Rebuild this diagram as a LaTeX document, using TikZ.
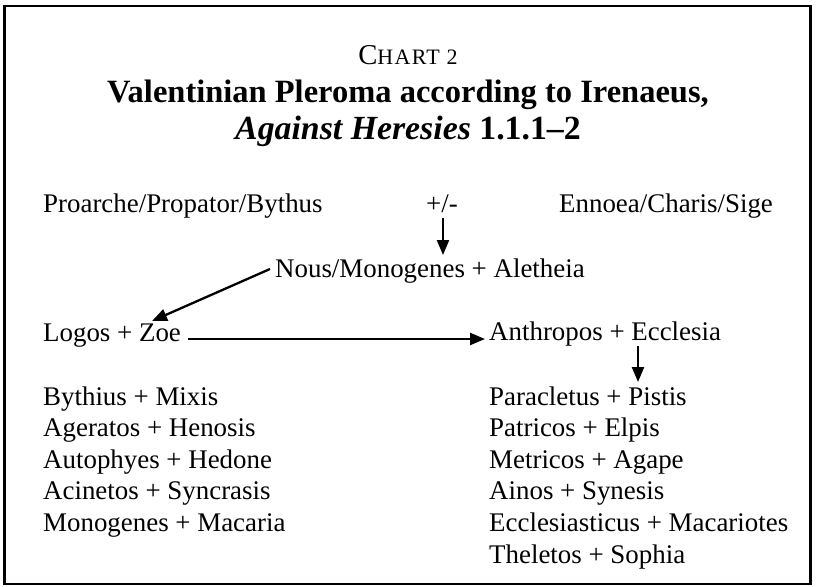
\documentclass[tikz,border=0pt]{standalone}
\usepackage{fontspec}
\setmainfont{Liberation Serif}
\usetikzlibrary{arrows.meta,calc}
\begin{document}
\begin{tikzpicture}[x=1bp,y=-1bp,
  txt/.style={anchor=base west, inner sep=0pt, font=\fontsize{26.9bp}{30bp}\selectfont},
  ttl/.style={anchor=base, inner sep=0pt, font=\fontsize{32.5bp}{36bp}\selectfont\bfseries},
  arr/.style={line width=2.3bp, -{Triangle[length=15bp,width=12bp]}},
  frame/.style={line width=2.6bp}]
\useasboundingbox (0,0) rectangle (819,587);
\draw[frame] (4.5,6) rectangle (810.5,584);
% title
\node[anchor=base, inner sep=0pt] (chart) at (408,65)
  {\fontsize{28.7bp}{30bp}\selectfont C\addfontfeature{LetterSpace=6}\fontsize{22bp}{30bp}\selectfont HART 2};
\node[ttl] (t1) at (408,103) {Valentinian Pleroma according to Irenaeus,};
\node[ttl, font=\fontsize{33.8bp}{36bp}\selectfont\bfseries] (t2) at (408,140) {\textit{Against Heresies} 1.1.1–2};
% rows
\node[txt] (pro) at (43,213) {Proarche/Propator/Bythus};
\node[txt, anchor=base] (pm) at (442,213) {+/-};
\node[txt] (enn) at (559,213) {Ennoea/Charis/Sige};
\node[txt] (nous) at (275,277) {Nous/Monogenes + Aletheia};
\node[txt] (logos) at (43,341) {Logos + Zoe};
\node[txt] (anth) at (489,340) {Anthropos + Ecclesia};
% left list
\node[txt] (l1) at (43,405) {Bythius + Mixis};
\node[txt] (l2) at (43,436.6) {Ageratos + Henosis};
\node[txt] (l3) at (43,468.2) {Autophyes + Hedone};
\node[txt] (l4) at (43,499.8) {Acinetos + Syncrasis};
\node[txt] (l5) at (43,531.4) {Monogenes + Macaria};
% right list
\node[txt] (r1) at (489,405) {Paracletus + Pistis};
\node[txt] (r2) at (489,436.6) {Patricos + Elpis};
\node[txt] (r3) at (489,468.2) {Metricos + Agape};
\node[txt] (r4) at (489,499.8) {Ainos + Synesis};
\node[txt] (r5) at (489,531.4) {Ecclesiasticus + Macariotes};
\node[txt] (r6) at (489,563) {Theletos + Sophia};
% arrows
\draw[arr] ($(pm.base)+(1,5)$) -- ($(pm.base)+(1,42)$);
\draw[arr] ($(nous.base west)+(-5,-8)$) -- ($(logos.base west)+(109,-20)$);
\draw[arr] ($(logos.base east)+(7,-2)$) -- ($(anth.base west)+(-4,-1)$);
\draw[arr] ($(anth.base west)+(149,6)$) -- ($(r1.base west)+(149,-23)$);
\end{tikzpicture}
\end{document}
